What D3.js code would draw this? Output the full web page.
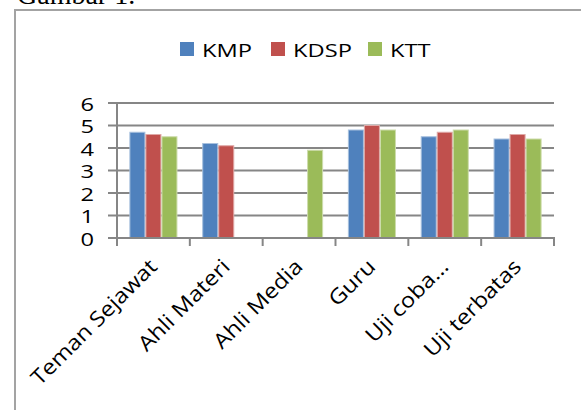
<!DOCTYPE html>
<html>
<head>
<meta charset="utf-8">
<script src="https://cdn.jsdelivr.net/npm/d3@7"></script>
<style>
  html, body { margin: 0; padding: 0; background: #fff; }
  svg { display: block; }
</style>
</head>
<body>
<div id="chart"></div>
<script>
// --- data ---
const categories = ["Teman Sejawat", "Ahli Materi", "Ahli Media", "Guru", "Uji coba…", "Uji terbatas"];
const seriesNames = ["KMP", "KDSP", "KTT"];
const kmp  = [4.7, 4.2, null, 4.8, 4.5, 4.4];
const kdsp = [4.6, 4.1, null, 5.0, 4.7, 4.6];
const ktt  = [4.5, null, 3.9, 4.8, 4.8, 4.4];
const yTicks = [0, 1, 2, 3, 4, 5, 6];

const seriesValues = [kmp, kdsp, ktt];
const colors = ["#4f81bd", "#c0504d", "#9bbb59"];
const edges  = ["#a7c0de", "#dfa8a6", "#cddcac"];

const W = 581, H = 410;
const FONT = "'Open Sans', 'DejaVu Sans', sans-serif";
const FS = 18.5;      // font size
const SX = 1.28;      // the scanned figure is stretched horizontally
const GRID = "#868686";

const svg = d3.select("#chart").append("svg")
  .attr("width", W).attr("height", H);

// caption cut off at the top of the page
svg.append("text")
  .attr("x", 17).attr("y", 4)
  .attr("font-family", "'Liberation Serif', 'Times New Roman', serif")
  .attr("font-size", 28)
  .attr("fill", "#000")
  .text("Gambar 1.");

// chart frame (runs past the right and bottom edge)
svg.append("rect")
  .attr("x", 15).attr("y", 10)
  .attr("width", 620).attr("height", 460)
  .attr("fill", "#fff")
  .attr("stroke", "#a3a3a3")
  .attr("stroke-width", 2);

// plot area
const plot = { left: 117, right: 554, top: 103, bottom: 238 };

const x0 = d3.scaleBand()
  .domain(categories)
  .range([plot.left, plot.right])
  .paddingInner(0.34)
  .paddingOuter(0.17);

const x1 = d3.scaleBand()
  .domain(seriesNames)
  .range([0, x0.bandwidth()]);

const y = d3.scaleLinear().domain([0, 6]).range([plot.bottom, plot.top]);

// gridlines
svg.append("g")
  .selectAll("line")
  .data(yTicks)
  .join("line")
  .attr("x1", plot.left - 9).attr("x2", plot.right)
  .attr("y1", d => y(d)).attr("y2", d => y(d))
  .attr("stroke", GRID).attr("stroke-width", 2);

// y labels
svg.append("g")
  .selectAll("text")
  .data(yTicks)
  .join("text")
  .attr("transform", d => `translate(94,${y(d) + 1}) scale(${SX},1)`)
  .attr("dy", "0.36em")
  .attr("text-anchor", "end")
  .attr("font-family", FONT).attr("font-size", FS)
  .attr("fill", "#000")
  .text(d => d);

// bars
const groups = svg.append("g")
  .selectAll("g")
  .data(categories)
  .join("g")
  .attr("transform", d => `translate(${x0(d)},0)`);

groups.selectAll("rect")
  .data((c, i) => seriesNames.map((s, j) => ({ s, j, v: seriesValues[j][i] })).filter(d => d.v != null))
  .join("rect")
  .attr("x", d => x1(d.s) + 0.5)
  .attr("width", x1.bandwidth() - 1)
  .attr("y", d => y(d.v))
  .attr("height", d => y(0) - y(d.v))
  .attr("fill", d => colors[d.j])
  .attr("stroke", d => edges[d.j])
  .attr("stroke-width", 1);

// axes lines
const step = x0.step();
svg.append("line")
  .attr("x1", plot.left).attr("x2", plot.left)
  .attr("y1", plot.top).attr("y2", plot.bottom + 7)
  .attr("stroke", GRID).attr("stroke-width", 2);
svg.append("line")
  .attr("x1", plot.left - 9).attr("x2", plot.right + 1)
  .attr("y1", plot.bottom).attr("y2", plot.bottom)
  .attr("stroke", GRID).attr("stroke-width", 2);
svg.append("g")
  .selectAll("line")
  .data(d3.range(categories.length + 1))
  .join("line")
  .attr("x1", i => plot.left + i * step).attr("x2", i => plot.left + i * step)
  .attr("y1", plot.bottom).attr("y2", plot.bottom + 8)
  .attr("stroke", GRID).attr("stroke-width", 2);

// rotated category labels (less stretch along the slanted baseline)
svg.append("g")
  .selectAll("text")
  .data(categories)
  .join("text")
  .attr("text-anchor", "end")
  .attr("font-family", FONT).attr("font-size", 21)
  .attr("fill", "#000")
  .attr("transform", d => `translate(${x0(d) + x0.bandwidth() / 2 + 5},${plot.bottom + 30}) rotate(-45) scale(1.13,1)`)
  .text(d => d);

// legend
const legendX = [180, 271, 368];
const legend = svg.append("g")
  .selectAll("g")
  .data(seriesNames)
  .join("g")
  .attr("transform", (d, i) => `translate(${legendX[i]},42)`);
legend.append("rect")
  .attr("width", 14).attr("height", 14)
  .attr("fill", (d, i) => colors[i]);
legend.append("text")
  .attr("transform", `translate(22,8) scale(${SX},1)`)
  .attr("dy", "0.36em")
  .attr("font-family", FONT).attr("font-size", FS)
  .attr("fill", "#000")
  .text(d => d);
</script>
</body>
</html>
